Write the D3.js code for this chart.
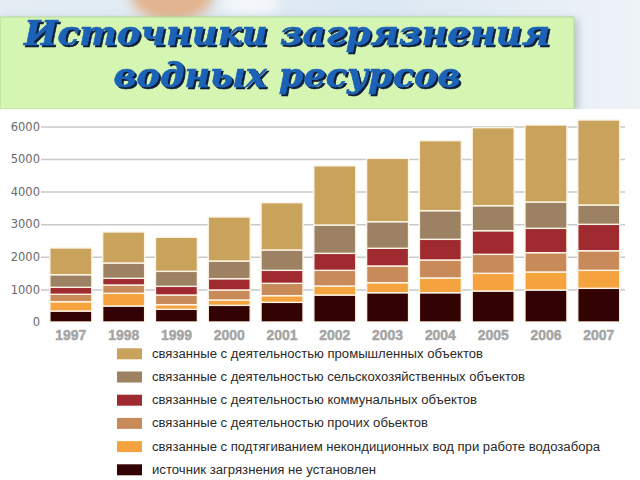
<!DOCTYPE html>
<html><head><meta charset="utf-8">
<script src="https://cdn.jsdelivr.net/npm/d3@7"></script>
<style>html,body{margin:0;padding:0;background:#fff;}svg{display:block;}</style>
</head><body>
<svg id="c" width="640" height="480"></svg>
<script>
const years = ["1997","1998","1999","2000","2001","2002","2003","2004","2005","2006","2007"];
const unknownSrc = [337, 491, 389, 511, 603, 828, 899, 899, 951, 982, 1033];
const substandard = [286, 389, 143, 164, 205, 276, 307, 451, 542, 552, 552];
const other = [227, 255, 296, 307, 378, 481, 512, 552, 583, 593, 602];
const communal = [214, 205, 266, 347, 399, 521, 543, 634, 725, 746, 809];
const agricultural = [387, 470, 460, 542, 624, 869, 816, 879, 767, 808, 593];
const industrial = [819, 951, 1043, 1350, 1451, 1815, 1943, 2147, 2393, 2362, 2607];
const yTicks = [0, 1000, 2000, 3000, 4000, 5000, 6000];
const seriesNames = [
  "связанные с деятельностью промышленных объектов",
  "связанные с деятельностью сельскохозяйственных объектов",
  "связанные с деятельностью коммунальных объектов",
  "связанные с деятельностью прочих обьектов",
  "связанные с подтягиванием некондиционных вод при работе водозабора",
  "источник загрязнения не установлен"
];
const seriesColors = ["#c9a35c", "#9c8262", "#9f2a30", "#c98a5a", "#f5a33f", "#330202"];
const titleLines = ["Источники загрязнения", "водных ресурсов"];

const svg = d3.select("#c");
const defs = svg.append("defs");
const bg = defs.append("linearGradient").attr("id","bg").attr("x1",0).attr("x2",1).attr("y1",0).attr("y2",0);
bg.append("stop").attr("offset","0%").attr("stop-color","#e4edf4");
bg.append("stop").attr("offset","60%").attr("stop-color","#dce8f2");
bg.append("stop").attr("offset","100%").attr("stop-color","#eef3f8");
const blur = defs.append("filter").attr("id","blur").attr("x","-50%").attr("y","-50%").attr("width","200%").attr("height","200%");
blur.append("feGaussianBlur").attr("stdDeviation",6);
const sh = defs.append("filter").attr("id","shadow").attr("x","-10%").attr("y","-20%").attr("width","130%").attr("height","150%");
sh.append("feDropShadow").attr("dx",3).attr("dy",3).attr("stdDeviation",4).attr("flood-color","#7a8a9a").attr("flood-opacity",0.5);
const tsh = defs.append("filter").attr("id","tshadow").attr("x","-5%").attr("y","-20%").attr("width","110%").attr("height","150%");
tsh.append("feDropShadow").attr("dx",2).attr("dy",2).attr("stdDeviation",0.4).attr("flood-color","#0b1a3a").attr("flood-opacity",1);

// header background
svg.append("rect").attr("x",0).attr("y",0).attr("width",640).attr("height",110).attr("fill","url(#bg)");
svg.append("ellipse").attr("cx",172).attr("cy",-8).attr("rx",42).attr("ry",30).attr("fill","#e2b48f").attr("filter","url(#blur)");
svg.append("ellipse").attr("cx",250).attr("cy",4).attr("rx",30).attr("ry",12).attr("fill","#f4f7fa").attr("filter","url(#blur)");
svg.append("rect").attr("x",0).attr("y",17).attr("width",574).attr("height",92)
  .attr("fill","#d5f5b2").attr("stroke","#b2dc94").attr("stroke-width",1).attr("filter","url(#shadow)");
svg.append("rect").attr("x",0).attr("y",109).attr("width",640).attr("height",371).attr("fill","#ffffff");

const titleY = [45, 87];
const titleW = [526, 347];
titleLines.forEach((t,i)=>{
  svg.append("text").attr("x",287).attr("y",titleY[i]).attr("text-anchor","middle")
    .attr("font-family","DejaVu Serif").attr("font-weight","bold").attr("font-style","italic")
    .attr("font-size",33).attr("fill","#1c62b6").attr("stroke","#1c62b6").attr("stroke-width",0.6)
    .attr("filter","url(#tshadow)")
    .attr("textLength",titleW[i]).attr("lengthAdjust","spacingAndGlyphs").text(t);
});

// chart
const x = d3.scaleBand().domain(years).range([44.6, 625]).paddingInner(0.205).paddingOuter(0.1);
const y = d3.scaleLinear().domain([0, 6000]).range([322, 126.4]);

const yAxis = svg.append("g").attr("transform","translate(42,0)")
  .call(d3.axisLeft(y).tickValues(yTicks).tickSize(-583).tickPadding(2).tickFormat(d3.format("d")));
yAxis.select(".domain").remove();
yAxis.selectAll(".tick line").attr("stroke","#c9c9c9").attr("stroke-width",1.5).attr("x1",-1);
yAxis.selectAll(".tick").filter(d=>d===0).select("line").remove();
yAxis.selectAll(".tick text").attr("font-family","DejaVu Sans").attr("font-size",11.5).attr("fill","#6a6a6a");

const table = years.map((yr,i)=>({year:yr, unknownSrc:unknownSrc[i], substandard:substandard[i], other:other[i], communal:communal[i], agricultural:agricultural[i], industrial:industrial[i]}));
const keys = ["unknownSrc","substandard","other","communal","agricultural","industrial"];
const colorOf = {unknownSrc:seriesColors[5], substandard:seriesColors[4], other:seriesColors[3], communal:seriesColors[2], agricultural:seriesColors[1], industrial:seriesColors[0]};
const stack = d3.stack().keys(keys)(table);

svg.append("g").selectAll("g").data(stack).join("g").attr("fill",d=>colorOf[d.key])
  .selectAll("rect").data(d=>d).join("rect")
  .attr("x",d=>x(d.data.year)).attr("width",x.bandwidth())
  .attr("y",d=>y(d[1])).attr("height",d=>y(d[0])-y(d[1]))
  .attr("stroke","#fbf4e6").attr("stroke-width",1.4);

const xAxis = svg.append("g").attr("transform","translate(0,322)")
  .call(d3.axisBottom(x).tickSize(0).tickPadding(7));
xAxis.select(".domain").remove();
xAxis.selectAll(".tick text").attr("font-family","Liberation Sans").attr("font-weight","bold")
  .attr("font-size",15.5).attr("fill","#a5a5a5").attr("stroke","#a5a5a5").attr("stroke-width",0.5)
  .attr("textLength",31).attr("lengthAdjust","spacingAndGlyphs");

// legend
const legendEnds = [483, 525, 477, 428, 600, 376];
const lg = svg.append("g");
seriesNames.forEach((name,i)=>{
  const yy = 348.3 + i*23.2;
  lg.append("rect").attr("x",117).attr("y",yy).attr("width",25).attr("height",11).attr("fill",seriesColors[i]);
  lg.append("text").attr("x",152).attr("y",yy+9.5).attr("font-family","Liberation Sans").attr("font-size",12.5)
    .attr("fill","#2a2a2a").attr("textLength",legendEnds[i]-152).attr("lengthAdjust","spacingAndGlyphs").text(name);
});
</script>
</body></html>
